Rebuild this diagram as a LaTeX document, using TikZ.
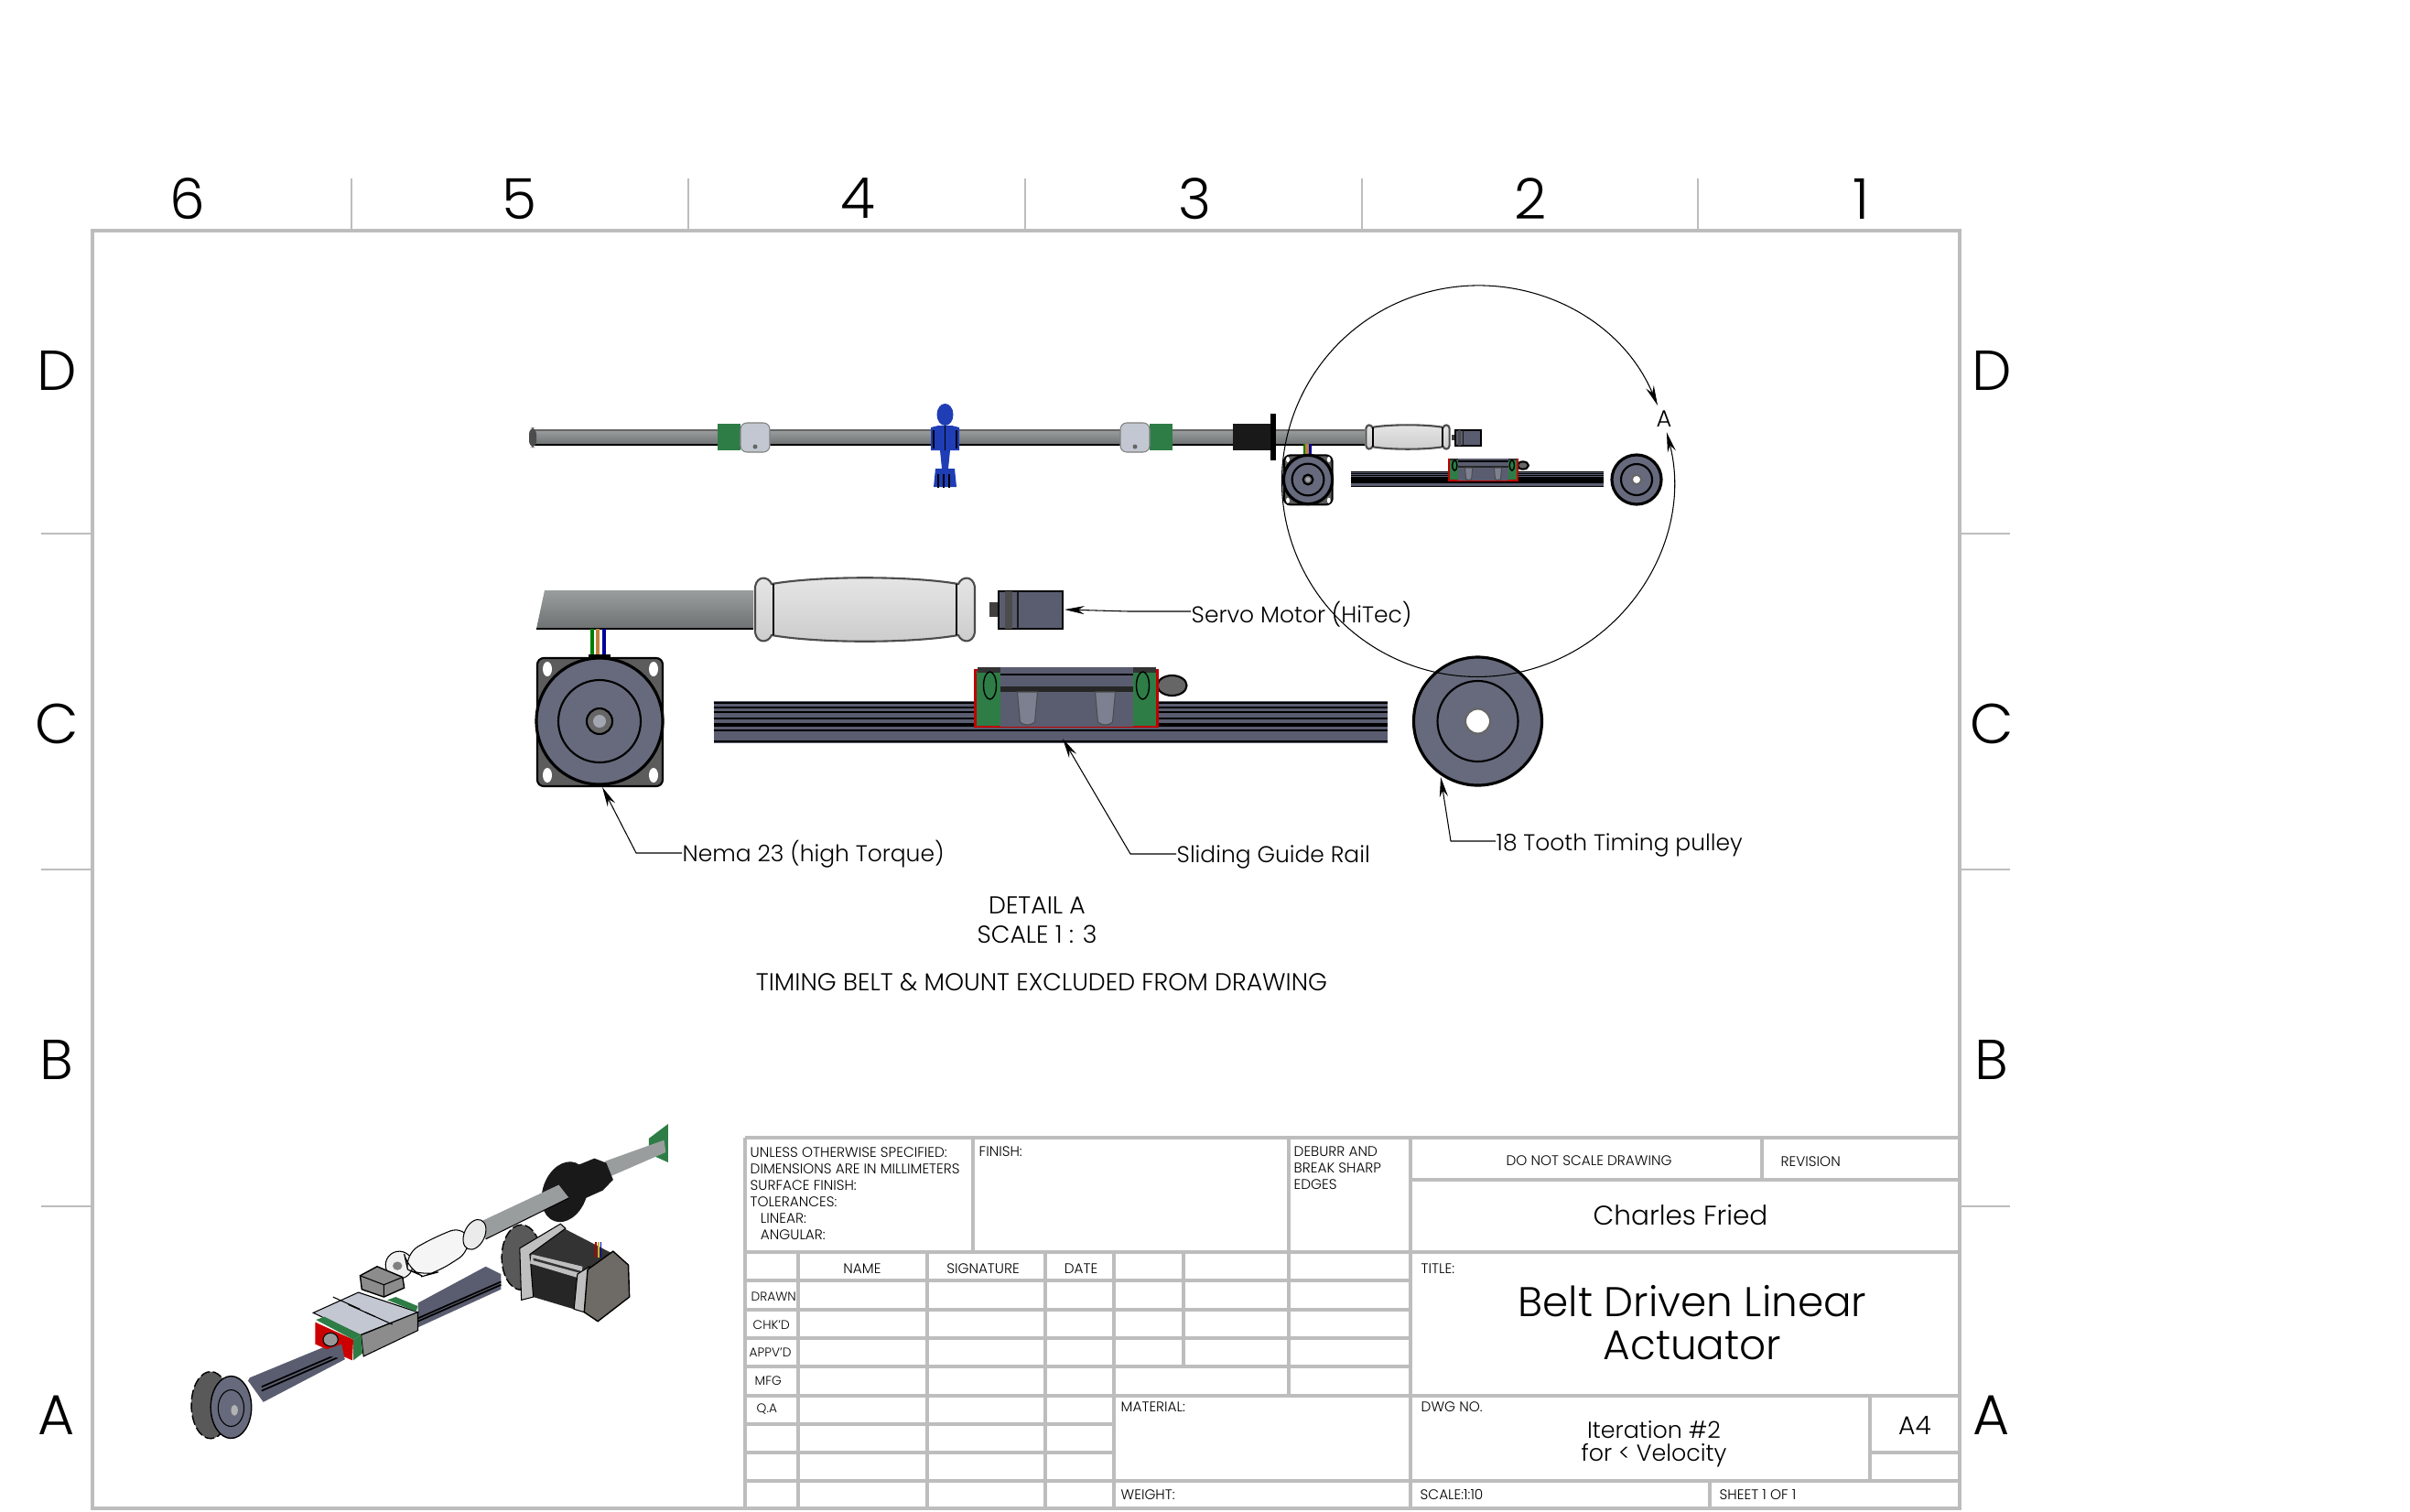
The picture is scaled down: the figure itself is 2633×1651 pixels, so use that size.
\documentclass[tikz,border=0pt]{standalone}
\usepackage{fontspec}
\setmainfont{Poppins Light}
\usetikzlibrary{arrows.meta}
\definecolor{framegray}{HTML}{BDBDBD}
\definecolor{railgray}{HTML}{5A5D70}
\definecolor{discgray}{HTML}{666A7C}
\definecolor{platedark}{HTML}{5C5C5C}
\definecolor{railgreen}{HTML}{2E7D46}
\definecolor{shaftlight}{HTML}{999D9D}
\definecolor{shaftdark}{HTML}{6E7272}
\definecolor{collarsilver}{HTML}{C3C7D2}
\definecolor{figblue}{HTML}{1F3DB4}
\definecolor{motorend}{HTML}{6E6A65}
\tikzset{
  >={Stealth[length=6.2pt,width=2.6pt]},
  frameline/.style={draw=framegray,line width=1.3pt},
  tick/.style={draw=framegray,line width=.6pt},
  partline/.style={draw=black,line width=.6pt},
  leader/.style={draw=black,line width=.3pt},
  zone/.style={inner sep=0,font=\fontsize{17.5}{20}\selectfont},
  tiny/.style={inner sep=0,anchor=west,align=left,font=\fontsize{4.35}{5.15}\selectfont},
  tinyc/.style={inner sep=0,font=\fontsize{4.35}{5.15}\selectfont},
  rowtag/.style={inner sep=0,anchor=west,font=\fontsize{3.9}{5}\selectfont},
  callout/.style={inner sep=0,anchor=west,font=\fontsize{7.1}{9}\selectfont},
  note/.style={inner sep=0,font=\fontsize{7.6}{9}\selectfont},
  motorview/.pic={
    \draw[line width=1pt,green!50!black] (-8,-101) -- (-8,-71);
    \draw[line width=1pt,blue!60!black] (5,-101) -- (5,-71);
    \draw[line width=1pt,brown] (-2,-101) -- (-2,-71);
    \fill[black] (-12,-73) rectangle (12,-66);
    \draw[partline,fill=platedark,rounded corners=2] (-68,-69) rectangle (69,71);
    \foreach \cx/\cy in {-57/-57,59/-57,-57/59,59/59}
      \fill[white] (\cx,\cy) ellipse[x radius=5,y radius=8];
    \draw[draw=black,line width=.9pt,fill=discgray] (0,0) circle[radius=69];
    \draw[partline] (0,0) circle[radius=45];
    \draw[partline,fill=black!60] (0,0) circle[radius=14];
    \fill[discgray!60] (0,0) circle[radius=7];
  },
  pulleyview/.pic={
    \draw[draw=black,line width=.9pt,fill=discgray] (0,0) circle[radius=70];
    \draw[partline] (0,0) circle[radius=44];
    \draw[partline,draw=black!60,fill=white] (0,0) circle[radius=13.5];
  },
  railview/.pic={
    \fill[railgray] (-368,-23) rectangle (368,23);
    \foreach \ry in {-21,-16,-11,-4,9,21}
      \draw[black,line width=.45pt] (-368,\ry) -- (368,\ry);
    \draw[black,line width=1pt] (-368,3) -- (368,3);
    \draw[partline,fill=black!60] (133,-40) ellipse[x radius=16,y radius=11];
    \draw[draw=red!75!black,line width=.6pt,fill=railgreen] (-82,-57) rectangle (117,5);
    \fill[black!80] (-80,-60) rectangle (115,-54);
    \fill[railgray] (-55,-60) rectangle (90,5);
    \fill[black!85] (-55,-39) rectangle (90,-33);
    \draw[black,line width=.4pt] (-55,-52) -- (90,-52);
    \foreach \sx in {-36,49}
      \draw[draw=black!70,line width=.3pt,fill=discgray!85!white] (\sx,-33) -- (\sx+22,-33) -- (\sx+19,0) .. controls (\sx+14,4) and (\sx+8,4) .. (\sx+3,0) -- cycle;
    \foreach \sx in {-66,101}
      \draw[black,line width=.4pt] (\sx,-40) ellipse[x radius=7,y radius=15];
  },
  servoview/.pic={
    \fill[black!75] (-45,-8) rectangle (-35,8);
    \draw[partline,fill=railgray] (-35,-20) rectangle (35,21);
    \fill[black!70] (-28,-20) rectangle (-20,21);
    \draw[black!90,line width=.3pt] (-14,-20) -- (-14,21);
  },
  couplingview/.pic={
    \draw[partline,draw=black!70,top color=black!10,bottom color=black!20]
      (-120,-25) .. controls (-118,-37) and (-106,-37) .. (-102,-28)
      .. controls (-50,-37) and (50,-37) .. (102,-28)
      .. controls (106,-37) and (118,-37) .. (120,-25) -- (120,25)
      .. controls (118,37) and (106,37) .. (102,28)
      .. controls (50,37) and (-50,37) .. (-102,28)
      .. controls (-106,37) and (-118,37) .. (-120,25) -- cycle;
    \draw[black,line width=.4pt] (-100,-28) -- (-100,28);
    \draw[black,line width=.4pt] (100,-28) -- (100,28);
  },
}
\begin{document}
\begin{tikzpicture}[x=0.01cm,y=-0.01cm]
  \useasboundingbox (0,0) rectangle (2633,1651);

  \foreach \tx in {384,752,1120,1488,1855}
    \draw[tick] (\tx,195) -- (\tx,252);
  \foreach \ty in {583,950,1318}
    \draw[tick] (45,\ty) -- (101,\ty) (2141,\ty) -- (2196,\ty);
  \draw[frameline,line width=1.4pt] (101,252) rectangle (2141,1648);
  \foreach \tname/\tx/\tlab in {six/205/6,five/567/5,four/937/4,three/1305/3,two/1672/2,one/2033/1}
    \node[zone] (col\tname) at (\tx,217) {\tlab};
  \foreach \tname/\ty in {D/405,C/791,B/1158,A/1546}{
    \node[zone] (rowl\tname) at (62,\ty) {\tname};
    \node[zone] (rowr\tname) at (2176,\ty) {\tname};
  }

  \foreach \xa/\ya/\xb/\yb in {814/1243/2141/1243,814/1368/2141/1368,814/1399/1541/1399,814/1431/1541/1431,
      814/1462/1541/1462,814/1493/1541/1493,814/1525/2141/1525,814/1556/1217/1556,814/1587/1217/1587,
      814/1618/2141/1618,1541/1289/2141/1289,2043/1587/2141/1587,814/1243/814/1649,872/1368/872/1649,
      1013/1368/1013/1649,1142/1368/1142/1649,1217/1368/1217/1649,1293/1368/1293/1493,1063/1243/1063/1368,
      1408/1243/1408/1525,1541/1243/1541/1649,1925/1243/1925/1289,2043/1525/2043/1618,1868/1618/1868/1649}
    \draw[frameline] (\xa,\ya) -- (\xb,\yb);

  \node[tiny] (notes) at (819,1304) {UNLESS OTHERWISE SPECIFIED:\\DIMENSIONS ARE IN MILLIMETERS\\SURFACE FINISH:\\TOLERANCES:\\\hspace*{3.2pt}LINEAR:\\\hspace*{3.2pt}ANGULAR:};
  \node[tiny] (finish) at (1069,1258) {FINISH:};
  \node[tiny] (deburr) at (1413,1276) {DEBURR AND\\BREAK SHARP\\EDGES};
  \node[tinyc] (hname) at (942,1386) {NAME};
  \node[tinyc] (hsign) at (1074,1386) {SIGNATURE};
  \node[tinyc] (hdate) at (1181,1386) {DATE};
  \node[rowtag] (drawn) at (820,1417) {DRAWN};
  \node[rowtag] (chkd) at (822,1448) {CHK'D};
  \node[rowtag] (appvd) at (818,1478) {APPV'D};
  \node[rowtag] (mfg) at (824,1509) {MFG};
  \node[rowtag] (qa) at (826,1540) {Q.A};
  \node[tiny] (material) at (1224,1537) {MATERIAL:};
  \node[tiny] (weight) at (1224,1633) {WEIGHT:};
  \node[tinyc] (noscale) at (1736,1268) {DO NOT SCALE DRAWING};
  \node[tiny] (revision) at (1945,1269) {REVISION};
  \node[tiny] (titlelab) at (1552,1386) {TITLE:};
  \node[tiny] (dwgno) at (1552,1537) {DWG NO.};
  \node[tiny] (scalelab) at (1551,1633) {SCALE:1{:}10};
  \node[tiny] (sheet) at (1878,1633) {SHEET 1 OF 1};
  \node[inner sep=0,font=\fontsize{8.4}{10}\selectfont] (owner) at (1836,1327) {Charles Fried};
  \node[inner sep=0,align=center,font=\fontsize{12.9}{13.4}\selectfont] (title) at (1849,1445) {Belt Driven Linear\\Actuator};
  \node[inner sep=0,align=center,font=\fontsize{7.2}{7.1}\selectfont] (iter) at (1807,1578) {Iteration \#2\\for < Velocity};
  \node[inner sep=0,font=\fontsize{8}{9}\selectfont] (size) at (2092,1557) {A4};

  \shade[top color=shaftlight,bottom color=shaftdark] (582,470) rectangle (1491,486);
  \draw[black,line width=.5pt] (582,486) -- (1491,486);
  \draw[black!60,line width=.3pt] (582,470) -- (1491,470);
  \fill[black!70,rounded corners=2] (578,467) rectangle (586,489);
  \fill[railgreen] (784,463) rectangle (809,492);
  \draw[draw=black!50,line width=.3pt,fill=collarsilver,rounded corners=2] (809,462) rectangle (841,494);
  \fill[black!60] (825,488) circle[radius=2.5];
  \fill[railgreen] (1256,463) rectangle (1281,492);
  \draw[draw=black!50,line width=.3pt,fill=collarsilver,rounded corners=2] (1224,462) rectangle (1256,494);
  \fill[black!60] (1240,488) circle[radius=2.5];
  \fill[figblue] (1032.5,453) ellipse[x radius=9,y radius=12];
  \fill[figblue] (1017,467) -- (1025,465) -- (1040,465) -- (1048,467) -- (1048,492) -- (1017,492) -- cycle;
  \fill[figblue] (1027,492) -- (1038,492) -- (1036,512) -- (1029,512) -- cycle;
  \fill[figblue] (1022,512) -- (1043,512) -- (1045,532) -- (1020,532) -- cycle;
  \foreach \fx in {1025,1031,1037}
    \draw[black,line width=.3pt] (\fx,518) -- (\fx,533);
  \draw[black,line width=.3pt] (1032.5,465) -- (1032.5,492) (1020,470) -- (1020,490) (1045,470) -- (1045,490);
  \fill[black!90] (1347,463) rectangle (1388,492);
  \fill[black] (1388,452) rectangle (1394,503);
  \pic at (1538,477.5) [scale=.38] {couplingview};
  \pic at (1604,478) [scale=.41] {servoview};
  \pic at (1429,524) [scale=.386] {motorview};
  \pic at (1614,523.5) [scale=.375] {railview};
  \pic at (1788,524) [scale=.386] {pulleyview};

  \shade[top color=shaftlight,bottom color=shaftdark] (595,645) -- (823,645) -- (823,687) -- (586,687) -- cycle;
  \draw[black,line width=.7pt] (586,687) -- (823,687);
  \pic at (945,666) {couplingview};
  \pic at (1126,666) {servoview};
  \pic at (655,788) {motorview};
  \pic at (1147.5,789) {railview};
  \pic at (1614.5,788) {pulleyview};

  \coordinate (arcstart) at (1811,443);
  \draw[leader,<->] (arcstart) arc[start angle=22.8,end angle=374.5,radius=2.135cm];
  \node[inner sep=0,font=\fontsize{7.3}{9}\selectfont] (detailmark) at (1818,458) {A};

  \node[callout] (servolab) at (1301,671) {Servo Motor (HiTec)};
  \node[callout] (nemalab) at (745,933) {Nema 23 (high Torque)};
  \node[callout] (raillab) at (1285,936) {Sliding Guide Rail};
  \node[callout] (pulleylab) at (1634,923) {18 Tooth Timing pulley};
  \coordinate (servotip) at (1163,666);
  \coordinate (servoknee) at (1233,668);
  \coordinate (nematip) at (658,860);
  \coordinate (nemaknee) at (695,932);
  \coordinate (railtip) at (1161,807);
  \coordinate (railknee) at (1235,933);
  \coordinate (pulleytip) at (1574,849);
  \coordinate (pulleyknee) at (1585,919);
  \draw[leader,<-] (servotip) -- (servoknee) -- (servoknee -| servolab.west);
  \draw[leader,<-] (nematip) -- (nemaknee) -- (nemaknee -| nemalab.west);
  \draw[leader,<-] (railtip) -- (railknee) -- (railknee -| raillab.west);
  \draw[leader,<-] (pulleytip) -- (pulleyknee) -- (pulleyknee -| pulleylab.west);

  \node[note] (detailname) at (1133,989) {DETAIL A};
  \node[note] (detailscale) at (1133,1021) {SCALE 1 : 3};
  \node[note] (exclude) at (1138,1073) {TIMING BELT \& MOUNT EXCLUDED FROM DRAWING};

  \begin{scope}[xshift=1.8cm,yshift=-12.1cm,x=0.003703cm,y=-0.003333cm]
    \fill[railgreen] (1425,100) -- (1482,52) -- (1482,178) -- (1425,150) -- cycle;
    \fill[shaftlight] (1470,105) -- (1475,145) -- (1310,225) -- (1295,175) -- cycle;
    \fill[black!90] (1210,190) -- (1265,165) -- (1300,180) -- (1320,235) -- (1290,270) -- (1240,295) -- cycle;
    \fill[black!90,rotate around={-20:(1178,275)}] (1178,275) ellipse[x radius=65,y radius=102];
    \fill[shaftlight] (1160,252) -- (1190,295) -- (945,430) -- (925,375) -- cycle;
    \draw[black,line width=.3pt] (1190,295) -- (945,430);

    \draw[draw=black,line width=.3pt,fill=black!6,rotate around={-25:(690,515)}] (690,515) ellipse[x radius=40,y radius=45];
    \fill[black!50] (685,518) circle[radius=14];
    \draw[draw=black,line width=.3pt,fill=black!4,rounded corners=5] (885,385) -- (905,465) -- (800,540) -- (760,552) -- (715,530) -- (705,480) -- (800,420) -- cycle;
    \draw[draw=black,line width=.3pt,fill=black!8,rotate around={-25:(912,415)}] (912,415) ellipse[x radius=30,y radius=52];

    \fill[railgray] (745,640) -- (945,520) -- (990,545) -- (990,595) -- (745,720) -- cycle;
    \draw[black,line width=.5pt] (745,690) -- (990,570);
    \draw[black,line width=.5pt] (745,700) -- (990,580);
    \draw[draw=black,line width=.4pt,fill=black!45] (575,550) -- (625,520) -- (700,555) -- (705,590) -- (645,620) -- (580,595) -- cycle;
    \draw[black,line width=.3pt] (575,550) -- (645,580) -- (700,555) (645,580) -- (645,620);
    \fill[railgray] (250,885) -- (500,770) -- (530,825) -- (290,965) -- (245,895) -- cycle;
    \draw[black,line width=.5pt] (285,915) -- (525,800);
    \draw[black,line width=.5pt] (285,928) -- (527,810);
    \draw[draw=black,line width=.3pt,fill=collarsilver] (437,672) -- (570,605) -- (745,670) -- (575,745) -- cycle;
    \draw[draw=black,line width=.3pt,fill=black!45] (578,745) -- (745,670) -- (745,730) -- (585,815) -- cycle;
    \foreach \sa/\sb in {495/640,540/665,590/690}
      \draw[black,line width=.3pt] (\sa,\sb-20) -- (\sa+80,\sb+20);
    \fill[railgreen] (655,630) -- (680,620) -- (745,650) -- (740,668) -- cycle;
    \fill[railgreen] (445,695) -- (470,685) -- (578,745) -- (555,760) -- cycle;
    \fill[red!80!black] (443,703) -- (555,760) -- (552,828) -- (443,775) -- cycle;
    \fill[railgreen] (555,760) -- (578,745) -- (582,805) -- (555,828) -- cycle;
    \fill[railgray] (445,805) -- (520,775) -- (530,825) -- cycle;
    \draw[black,line width=.3pt,fill=black!40] (488,760) circle[radius=22];

    \draw[draw=black,line width=.4pt,fill=black!65,dash pattern=on 3pt off 1pt] (135,975) ellipse[x radius=57,y radius=110];
    \draw[draw=black,line width=.4pt,fill=discgray] (195,982) ellipse[x radius=60,y radius=102];
    \draw[black,line width=.3pt] (195,985) ellipse[x radius=38,y radius=60];
    \fill[black!30] (205,992) ellipse[x radius=10,y radius=18];

    \draw[draw=black,line width=.4pt,fill=black!65,dash pattern=on 3pt off 1pt] (1050,490) ellipse[x radius=58,y radius=107];
    \fill[black!85] (1075,500) -- (1225,560) -- (1205,660) -- (1085,620) -- cycle;
    \fill[black!80] (1075,480) -- (1175,395) -- (1340,490) -- (1230,540) -- cycle;
    \draw[draw=black,line width=.3pt,fill=black!25] (1045,460) -- (1165,380) -- (1180,395) -- (1075,480) -- (1085,620) -- (1050,630) -- cycle;
    \fill[black!25] (1080,480) -- (1230,520) -- (1225,560) -- (1075,510) -- cycle;
    \fill[black!80] (1085,492) -- (1225,535) -- (1225,542) -- (1085,500) -- cycle;
    \draw[draw=black,line width=.3pt,fill=black!25] (1215,545) -- (1250,520) -- (1235,670) -- (1205,660) -- cycle;
    \draw[draw=black,line width=.4pt,fill=motorend] (1245,530) -- (1320,470) -- (1365,515) -- (1368,620) -- (1275,700) -- (1235,670) -- cycle;
    \draw[line width=.5pt,red!70!black] (1270,440) -- (1270,490);
    \draw[line width=.5pt,yellow!70!black] (1277,440) -- (1277,490);
    \draw[line width=.5pt,blue!70!black] (1284,440) -- (1284,490);
  \end{scope}
\end{tikzpicture}
\end{document}
